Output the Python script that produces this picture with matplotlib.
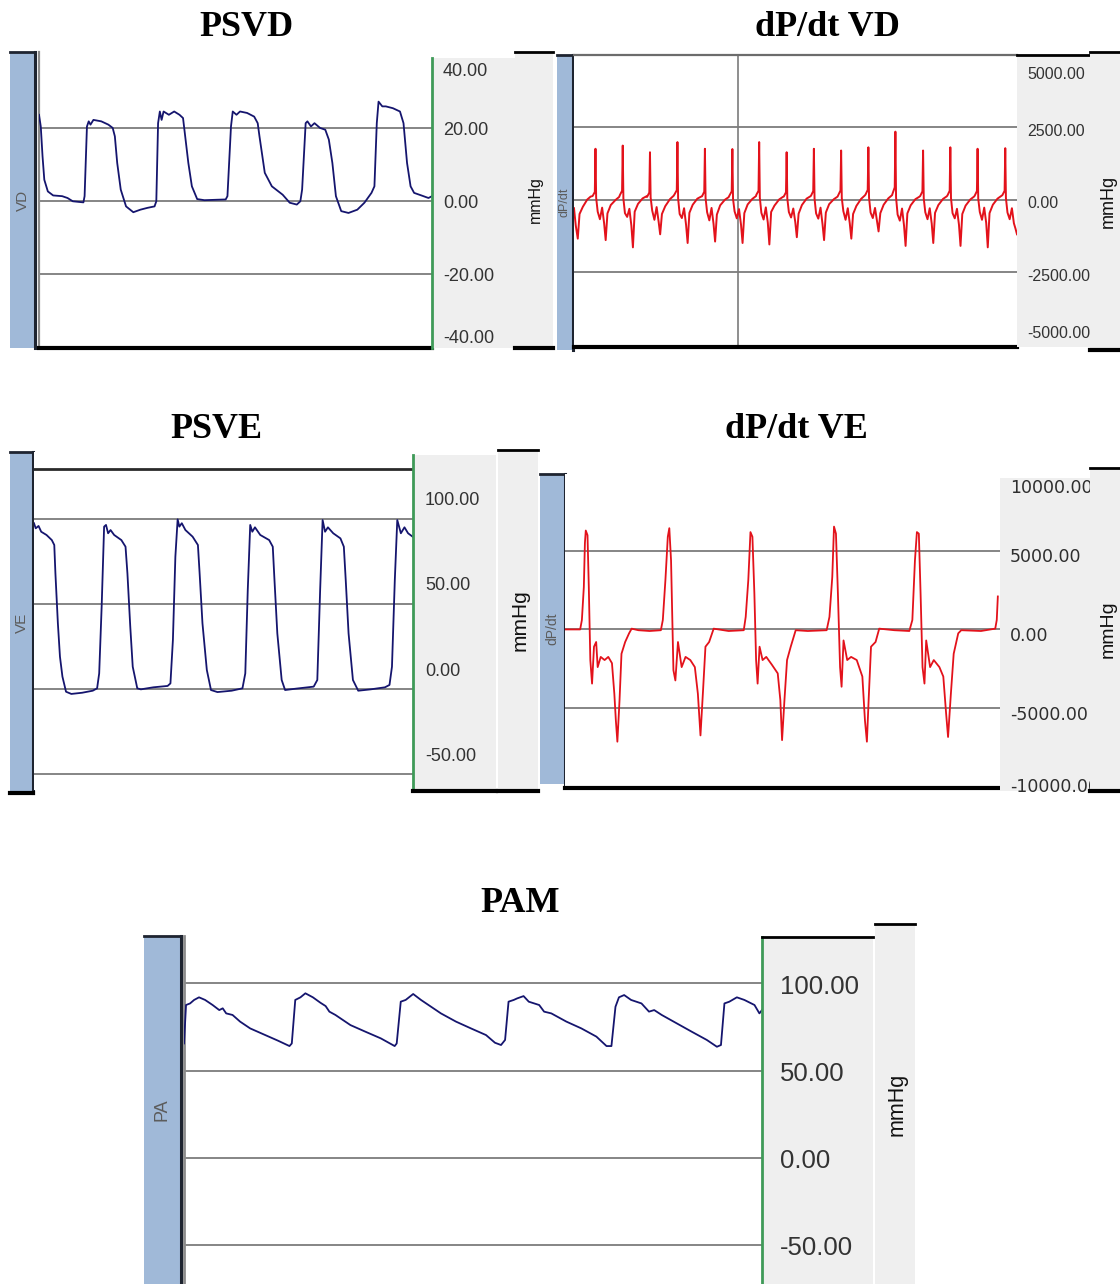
import matplotlib
matplotlib.use("Agg")
import matplotlib.pyplot as plt
import matplotlib.transforms as mtransforms
import numpy as np

# ---- recorded channels (time in s, pressure in mmHg, dP/dt in mmHg/s) ----
psvd_samples = [
    (0.000, 23.6), (0.009, 20.4), (0.018, 12.2), (0.027, 5.8), (0.045, 2.6), (0.072, 1.5),
    (0.118, 1.3), (0.145, 0.8), (0.172, -0.1), (0.226, -0.4), (0.232, 1.3), (0.244, 20.4),
    (0.253, 21.8), (0.262, 20.9), (0.277, 22.2), (0.317, 21.8), (0.353, 20.9), (0.375, 20.0),
    (0.386, 17.7), (0.398, 10.4), (0.416, 3.1), (0.443, -1.5), (0.480, -3.1), (0.516, -2.4),
    (0.552, -1.9), (0.588, -1.5), (0.597, -0.1), (0.606, 21.3), (0.615, 24.5), (0.624, 22.2),
    (0.634, 24.5), (0.661, 23.6), (0.688, 24.5), (0.715, 23.6), (0.733, 22.7), (0.742, 18.6),
    (0.760, 10.4), (0.778, 4.0), (0.805, 0.5), (0.842, 0.2), (0.950, 0.4), (0.959, 1.3),
    (0.977, 20.4), (0.986, 24.5), (1.005, 23.6), (1.023, 24.5), (1.059, 24.1), (1.095, 23.1),
    (1.113, 21.3), (1.122, 17.7), (1.149, 7.7), (1.185, 4.0), (1.240, 1.7), (1.276, -0.5),
    (1.312, -1.0), (1.330, -0.1), (1.339, 3.1), (1.357, 21.3), (1.366, 21.8), (1.384, 20.4),
    (1.402, 21.3), (1.430, 20.0), (1.457, 19.5), (1.475, 16.8), (1.493, 10.4), (1.511, 1.3),
    (1.538, -2.8), (1.575, -3.3), (1.620, -2.4), (1.656, -0.5), (1.692, 2.2), (1.707, 4.0),
    (1.719, 21.3), (1.728, 27.2), (1.747, 25.9), (1.765, 25.9), (1.801, 25.4), (1.837, 24.5),
    (1.855, 21.3), (1.873, 10.4), (1.891, 4.0), (1.909, 2.2), (1.946, 1.5), (1.982, 0.8),
    (2.000, 1.3),
]

psve_samples = [
    (0.000, 97.5), (0.009, 94.5), (0.024, 95.9), (0.038, 92.5), (0.066, 90.6), (0.094, 87.6),
    (0.107, 84.7), (0.113, 68.0), (0.126, 38.6), (0.137, 19.0), (0.150, 7.3), (0.169, -1.6),
    (0.197, -2.9), (0.254, -2.2), (0.310, -1.0), (0.333, 0.4), (0.344, 9.2), (0.357, 48.4),
    (0.370, 95.5), (0.380, 96.5), (0.391, 91.6), (0.404, 93.5), (0.423, 90.6), (0.461, 87.6),
    (0.483, 83.7), (0.493, 68.0), (0.508, 36.7), (0.521, 13.1), (0.545, 0.4), (0.564, -0.2),
    (0.630, 1.0), (0.705, 1.8), (0.720, 3.3), (0.733, 28.8), (0.746, 77.8), (0.758, 99.8),
    (0.767, 95.5), (0.780, 97.5), (0.799, 93.5), (0.837, 89.6), (0.865, 84.7), (0.874, 68.0),
    (0.889, 38.6), (0.912, 11.2), (0.934, -0.6), (0.968, -1.8), (1.043, -1.0), (1.100, 0.4),
    (1.115, 9.2), (1.128, 58.2), (1.141, 96.5), (1.152, 92.5), (1.166, 95.1), (1.194, 90.6),
    (1.241, 87.6), (1.260, 83.7), (1.269, 64.1), (1.284, 32.7), (1.307, 5.3), (1.325, -0.6),
    (1.382, 0.2), (1.476, 1.4), (1.495, 5.3), (1.510, 58.2), (1.523, 99.4), (1.536, 92.5),
    (1.551, 95.1), (1.579, 91.6), (1.617, 88.6), (1.635, 83.7), (1.645, 64.1), (1.660, 32.7),
    (1.683, 5.3), (1.711, -1.0), (1.777, -0.2), (1.852, 1.0), (1.876, 2.4), (1.889, 13.1),
    (1.904, 64.1), (1.917, 99.4), (1.936, 91.6), (1.955, 95.1), (1.974, 91.6), (1.998, 89.6),
]

pam_samples = [
    (0.000, 65.6), (0.007, 87.6), (0.021, 88.5), (0.035, 90.5), (0.052, 92.0), (0.073, 90.5),
    (0.099, 87.6), (0.122, 84.7), (0.134, 85.7), (0.146, 82.8), (0.168, 81.9), (0.194, 78.1),
    (0.229, 74.2), (0.281, 70.4), (0.325, 67.2), (0.365, 64.1), (0.373, 65.6), (0.385, 90.5),
    (0.403, 92.0), (0.420, 94.3), (0.446, 92.0), (0.472, 88.9), (0.490, 87.0), (0.503, 83.8),
    (0.524, 81.9), (0.576, 76.1), (0.628, 72.3), (0.681, 68.5), (0.729, 64.1), (0.736, 65.6),
    (0.750, 89.5), (0.767, 90.5), (0.793, 93.9), (0.820, 90.5), (0.846, 87.6), (0.872, 84.7),
    (0.889, 82.8), (0.941, 78.1), (0.993, 74.2), (1.045, 70.4), (1.076, 66.0), (1.097, 64.7),
    (1.111, 67.6), (1.123, 89.5), (1.141, 90.5), (1.153, 91.4), (1.175, 92.7), (1.193, 89.5),
    (1.229, 87.6), (1.246, 83.8), (1.271, 82.8), (1.323, 78.1), (1.375, 74.2), (1.427, 69.5),
    (1.462, 64.1), (1.479, 64.1), (1.493, 86.6), (1.505, 92.0), (1.523, 93.3), (1.547, 90.5),
    (1.583, 88.5), (1.609, 83.8), (1.627, 84.7), (1.653, 81.9), (1.705, 77.1), (1.757, 72.3),
    (1.809, 67.6), (1.844, 63.7), (1.858, 64.7), (1.870, 88.5), (1.887, 89.5), (1.913, 92.0),
    (1.939, 90.5), (1.974, 87.6), (1.991, 82.8), (2.000, 84.7),
]

dpdt_vd_samples = [
    (0.000, -300), (0.008, -900), (0.017, -1350), (0.025, -500), (0.040, -250), (0.060, 0), (0.075, 100),
    (0.084, 120), (0.094, 260), (0.097, 1750), (0.100, 60), (0.107, -420), (0.117, -680), (0.127, -280),
    (0.136, -820), (0.143, -1400), (0.151, -480), (0.166, -190), (0.187, -20), (0.204, 90),
    (0.207, 150), (0.217, 300), (0.220, 1860), (0.223, 30), (0.230, -470), (0.240, -600), (0.250, -320),
    (0.259, -900), (0.266, -1650), (0.274, -420), (0.289, -150), (0.310, 40), (0.327, 110),
    (0.330, 90), (0.340, 240), (0.343, 1630), (0.346, 70), (0.353, -380), (0.363, -700), (0.373, -260),
    (0.382, -760), (0.389, -1200), (0.397, -500), (0.412, -230), (0.433, 10), (0.450, 130),
    (0.454, 180), (0.464, 320), (0.467, 1980), (0.470, 40), (0.477, -500), (0.487, -640), (0.497, -300),
    (0.506, -880), (0.513, -1500), (0.521, -460), (0.536, -180), (0.557, 30), (0.574, 100),
    (0.578, 110), (0.588, 270), (0.591, 1750), (0.594, 50), (0.601, -440), (0.611, -720), (0.621, -290),
    (0.630, -840), (0.637, -1450), (0.645, -520), (0.660, -200), (0.681, -10), (0.698, 80),
    (0.702, 140), (0.712, 280), (0.715, 1740), (0.718, 20), (0.725, -410), (0.735, -650), (0.745, -330),
    (0.754, -870), (0.761, -1500), (0.769, -470), (0.784, -170), (0.805, 20), (0.822, 120),
    (0.823, 160), (0.833, 300), (0.836, 1980), (0.839, 60), (0.846, -460), (0.856, -690), (0.866, -270),
    (0.875, -800), (0.882, -1550), (0.890, -430), (0.905, -210), (0.926, 0), (0.943, 90),
    (0.947, 100), (0.957, 250), (0.960, 1630), (0.963, 40), (0.970, -430), (0.980, -620), (0.990, -310),
    (0.999, -780), (1.006, -1300), (1.014, -490), (1.029, -190), (1.050, 30), (1.067, 110),
    (1.070, 130), (1.080, 290), (1.083, 1750), (1.086, 30), (1.093, -480), (1.103, -660), (1.113, -280),
    (1.122, -850), (1.129, -1400), (1.137, -450), (1.152, -160), (1.173, 10), (1.190, 100),
    (1.193, 150), (1.203, 310), (1.206, 1690), (1.209, 50), (1.216, -400), (1.226, -700), (1.236, -300),
    (1.245, -820), (1.252, -1350), (1.260, -500), (1.275, -220), (1.296, 20), (1.313, 140),
    (1.316, 170), (1.326, 330), (1.329, 1800), (1.332, 60), (1.339, -450), (1.349, -640), (1.359, -290),
    (1.368, -760), (1.375, -1100), (1.383, -470), (1.398, -180), (1.419, 40), (1.436, 150),
    (1.438, 200), (1.448, 420), (1.451, 2340), (1.454, 70), (1.461, -520), (1.471, -730), (1.481, -310),
    (1.490, -900), (1.497, -1600), (1.505, -480), (1.520, -200), (1.541, 10), (1.558, 90),
    (1.563, 120), (1.573, 280), (1.576, 1690), (1.579, 40), (1.586, -440), (1.596, -680), (1.606, -300),
    (1.615, -830), (1.622, -1500), (1.630, -460), (1.645, -190), (1.666, 20), (1.683, 110),
    (1.686, 140), (1.696, 300), (1.699, 1800), (1.702, 50), (1.709, -470), (1.719, -650), (1.729, -320),
    (1.738, -870), (1.745, -1600), (1.753, -500), (1.768, -210), (1.789, 0), (1.806, 100),
    (1.809, 130), (1.819, 290), (1.822, 1750), (1.825, 30), (1.832, -430), (1.842, -700), (1.852, -280),
    (1.861, -810), (1.868, -1650), (1.876, -470), (1.891, -180), (1.912, 30), (1.929, 120),
    (1.934, 150), (1.944, 300), (1.947, 1770), (1.950, 50), (1.957, -450), (1.967, -680), (1.977, -300),
    (1.986, -820), (1.993, -1000), (2.000, -1200),
]

dpdt_ve_samples = [
    (0.000, 0), (0.070, 0), (0.078, 600), (0.087, 2700), (0.092, 5500), (0.096, 6300), (0.104, 6000),
    (0.110, 2700), (0.117, -1950), (0.125, -3450), (0.134, -1100), (0.144, -800), (0.151, -2400),
    (0.165, -1750), (0.183, -1950), (0.200, -1750), (0.217, -2150), (0.228, -4100), (0.235, -5800),
    (0.242, -7150), (0.252, -4500), (0.261, -1550), (0.278, -800), (0.296, -250), (0.308, 50),
    (0.339, -50), (0.391, -100), (0.443, -50),
    (0.452, 600), (0.464, 3150), (0.475, 5900), (0.482, 6450), (0.490, 4400), (0.501, -2600),
    (0.510, -3250), (0.522, -800), (0.539, -2400), (0.557, -1750), (0.579, -1950), (0.600, -2400),
    (0.614, -4100), (0.626, -6750), (0.638, -3850), (0.649, -1100), (0.666, -800), (0.687, 50),
    (0.756, -100), (0.826, -50),
    (0.835, 800), (0.847, 3150), (0.857, 6200), (0.866, 5900), (0.875, 2300), (0.883, -1950),
    (0.890, -3450), (0.899, -1100), (0.913, -1950), (0.930, -1750), (0.956, -2250), (0.983, -2800),
    (0.995, -4500), (1.003, -7050), (1.014, -4500), (1.026, -1950), (1.043, -1100), (1.066, -50),
    (1.122, -100), (1.209, -50),
    (1.222, 800), (1.235, 3350), (1.243, 6550), (1.252, 6100), (1.261, 2300), (1.271, -2400),
    (1.278, -3650), (1.287, -700), (1.304, -1950), (1.322, -1750), (1.348, -1950), (1.374, -3000),
    (1.386, -5800), (1.395, -7150), (1.403, -4500), (1.414, -1100), (1.435, -800), (1.452, 50),
    (1.522, -50), (1.591, -100),
    (1.605, 600), (1.617, 4400), (1.626, 6200), (1.635, 6100), (1.643, 2300), (1.652, -2400),
    (1.661, -3450), (1.669, -700), (1.687, -2400), (1.704, -1950), (1.730, -2400), (1.748, -3000),
    (1.761, -5350), (1.770, -6850), (1.783, -4100), (1.796, -1550), (1.817, -250), (1.831, -50),
    (1.922, -100), (1.988, 50), (1.995, 600), (2.000, 2100),
]

psvd_ticks = [40, 20, 0, -20, -40]
psve_ticks = [100, 50, 0, -50]
pam_ticks = [100, 50, 0, -50]
dpdt_vd_ticks = [5000, 2500, 0, -2500, -5000]
dpdt_ve_ticks = [10000, 5000, 0, -5000, -10000]

W, H = 1120, 1284
BAR_BLUE = "#a0b9d8"
PANEL_GRAY = "#efefef"
GRID = "#7c7c7c"
EDGE = "#1e2430"
GREEN = "#3f9a58"
NAVY = "#15156e"
RED = "#e3121b"

fig = plt.figure(figsize=(W / 100, H / 100), dpi=100)


def box(x0, y0, x1, y1, face="white"):
    # axes placed by pixel corners, measured from the top-left of the figure
    ax = fig.add_axes([x0 / W, 1 - y1 / H, (x1 - x0) / W, (y1 - y0) / H])
    ax.set_facecolor(face)
    ax.set_xticks([])
    ax.set_yticks([])
    for sp in ax.spines.values():
        sp.set_visible(False)
    return ax


def edge(ax, side, color, lw):
    sp = ax.spines[side]
    sp.set_visible(True)
    sp.set_color(color)
    sp.set_linewidth(lw)


def channel_bar(x0, y0, x1, y1, name, size):
    ax = box(x0, y0, x1, y1, BAR_BLUE)
    edge(ax, "right", EDGE, 2.2)
    edge(ax, "top", EDGE, 2)
    ax.text(0.5, 0.5, name, transform=ax.transAxes, rotation=90, ha="center",
            va="center", color="#5c5c5c", fontsize=size, family="Liberation Sans")
    return ax


def unit_strip(x0, y0, x1, y1, size, xpos=0.55, bottom=True):
    ax = box(x0, y0, x1, y1, PANEL_GRAY)
    edge(ax, "top", "black", 2)
    if bottom:
        edge(ax, "bottom", "black", 3)
    ax.text(xpos, 0.5, "mmHg", transform=ax.transAxes, rotation=90, ha="center",
            va="center", color="#111111", fontsize=size, family="Liberation Sans")
    return ax


def trace_axes(x0, y0, x1, y1, ylim, grid_values):
    ax = box(x0, y0, x1, y1)
    ax.set_xlim(0, 2.0)
    ax.set_ylim(*ylim)
    for v in grid_values:
        ax.axhline(v, color=GRID, lw=1.3, zorder=1)
    return ax


def scale_axes(plot_ax, x0, y0, x1, y1, values, shifts, xpad, size, family,
               green=True, color="#333333"):
    ax = box(x0, y0, x1, y1, PANEL_GRAY)
    if green:
        edge(ax, "left", GREEN, 2)
    base = mtransforms.blended_transform_factory(ax.transAxes, plot_ax.transData)
    for v, dy in zip(values, shifts):
        tr = mtransforms.offset_copy(base, fig=fig, x=xpad, y=-dy, units="dots")
        ax.text(0, v, f"{v:.2f}", transform=tr, ha="left", va="center",
                fontsize=size, family=family, color=color)
    return ax


def title(x, y, text):
    fig.text(x / W, 1 - y / H, text, ha="center", va="center", fontsize=26,
             fontweight="bold", family="Liberation Serif")


# PSVD
title(246, 28, "PSVD")
channel_bar(10, 52, 35, 348, "VD", 11)
ax = trace_axes(39, 52, 432, 348, (-40.3, 40.8), [20, 0, -20])
edge(ax, "left", "#8c8c8c", 1.6)
edge(ax, "bottom", "black", 3)
t, p = np.array(psvd_samples).T
ax.plot(t, p, color=NAVY, lw=1.3, zorder=3)
scale_axes(ax, 432, 58, 515, 348, psvd_ticks, [17, 3, 3, 3, -8], 11, 13, "Liberation Sans")
unit_strip(515, 52, 553, 348, 11.5)

# dP/dt VD
title(827, 28, "dP/dt VD")
channel_bar(557, 55, 573, 350, "dP/dt", 9)
ax = trace_axes(574, 55, 1017, 347, (-5086, 4983), [2500, 0, -2500])
edge(ax, "top", "#6c6c6c", 1.6)
edge(ax, "bottom", "black", 3)
ax.axvline(0.74, color=GRID, lw=1.2, zorder=1)
t, d = np.array(dpdt_vd_samples).T
ax.plot(t, d, color=RED, lw=1.4, zorder=3)
sc = scale_axes(ax, 1017, 55, 1090, 347, dpdt_vd_ticks, [20, 4, 4, 4, -11], 10, 11.5,
                "Liberation Sans", green=False)
edge(sc, "top", "black", 2)
unit_strip(1090, 52, 1120, 350, 13, xpos=0.6)

# PSVE
title(216, 430, "PSVE")
bar = channel_bar(10, 452, 33, 793, "VE", 11)
edge(bar, "bottom", "black", 3)
ax = trace_axes(34, 452, 413, 790, (-59.4, 139.4), [100, 50, 0, -50])
ax.axhline(129.4, color="#2a2a2a", lw=2, zorder=1)
t, p = np.array(psve_samples).T
ax.plot(t, p, color=NAVY, lw=1.3, zorder=3)
sc = scale_axes(ax, 413, 455, 496, 791, psve_ticks, [-18, -18, -18, -18], 12, 13, "Liberation Sans")
edge(sc, "bottom", "black", 3)
unit_strip(498, 450, 538, 791, 15)

# dP/dt VE
title(796, 430, "dP/dt VE")
channel_bar(540, 474, 565, 784, "dP/dt", 10)
ax = trace_axes(565, 474, 1000, 788, (-10100, 9900), [5000, 0, -5000])
ax.set_xlim(0, 2.01)
edge(ax, "bottom", "black", 3)
t, d = np.array(dpdt_ve_samples).T
ax.plot(t, d, color=RED, lw=1.3, zorder=3)
scale_axes(ax, 1000, 478, 1090, 791, dpdt_ve_ticks, [16, 6, 7, 7, 1], 10, 12.5,
           "DejaVu Sans", green=False, color="#2e2e2e")
unit_strip(1090, 468, 1120, 791, 14, xpos=0.62)

# PAM
title(520, 903, "PAM")
channel_bar(144, 936, 181, 1284, "PA", 13)
ax = trace_axes(184, 936, 762, 1284, (-72.1, 127.1), [100, 50, 0, -50])
edge(ax, "left", "#8c8c8c", 2)
t, p = np.array(pam_samples).T
ax.plot(t, p, color=NAVY, lw=1.3, zorder=3)
sc = scale_axes(ax, 762, 937, 873, 1284, pam_ticks, [4, 3, 3, 3], 18, 18.5, "Liberation Sans")
edge(sc, "top", "black", 2)
unit_strip(875, 924, 915, 1284, 15.5, bottom=False)

fig.savefig("out.png", dpi=100)
